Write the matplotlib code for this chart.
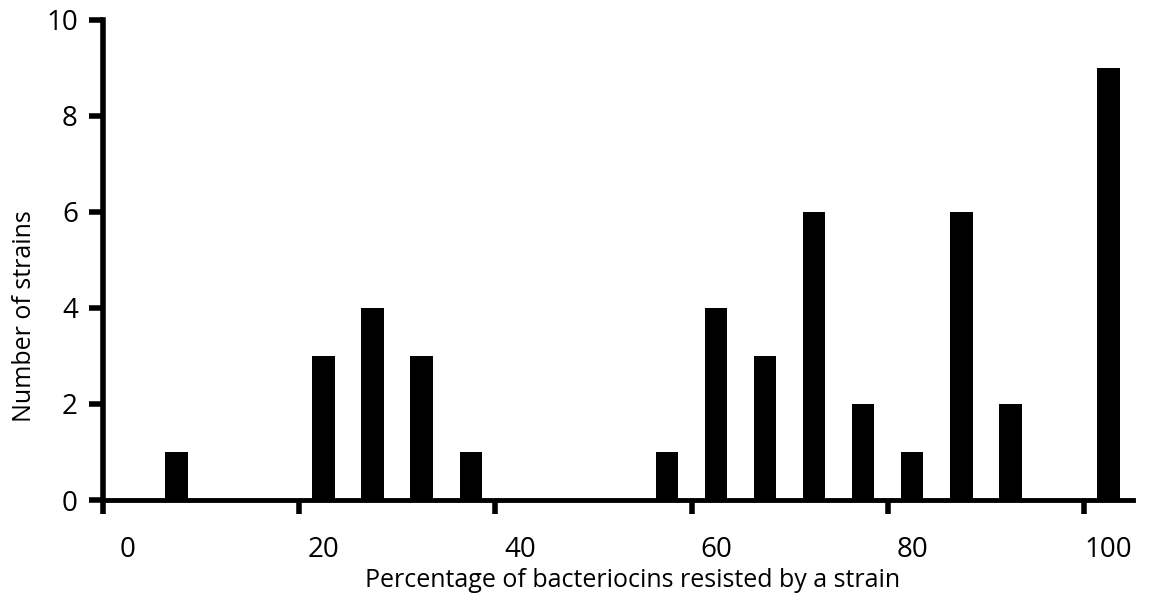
import numpy as np
import matplotlib
matplotlib.use('Agg')
from matplotlib import pyplot as plt

# percentage of bacteriocins resisted -> number of strains
pct = [5, 20, 25, 30, 35, 55, 60, 65, 70, 75, 80, 85, 90, 100]
strains = [1, 3, 4, 3, 1, 1, 4, 3, 6, 2, 1, 6, 2, 9]
xticks = [0, 20, 40, 60, 80, 100]
yticks = [0, 2, 4, 6, 8, 10]

plt.rcParams['font.family'] = ['Open Sans', 'DejaVu Sans']

fig = plt.figure(figsize=(11.49, 6.01), dpi=100)
ax = fig.add_axes([0.0896, 0.168, 0.8964, 0.799])

ax.bar(pct, strains, width=2.3, color='black', align='center')

ax.set_xlim(-2.5, 102.5)
ax.set_ylim(0, 10)

# labels sit on bin centres, tick marks on bin edges
ax.set_xticks(xticks)
ax.set_xticklabels([str(t) for t in xticks])
ax.set_xticks([t - 2.5 for t in xticks], minor=True)
ax.tick_params(axis='x', which='major', length=0, pad=26, labelsize=20)
ax.tick_params(axis='x', which='minor', length=10, width=4, direction='out')
ax.set_yticks(yticks)
ax.tick_params(axis='y', length=10, width=4, direction='out', pad=8, labelsize=20)

for s in ['top', 'right']:
    ax.spines[s].set_visible(False)
ax.spines['left'].set_linewidth(4)
ax.spines['bottom'].set_linewidth(3.5)

ax.set_xlabel('Percentage of bacteriocins resisted by a strain', fontsize=18)
ax.set_ylabel('Number of strains', fontsize=18)
ax.xaxis.set_label_coords(0.514, -0.167)
ax.yaxis.set_label_coords(-0.076, 0.383)
ax.xaxis.label.set_va('center')
ax.yaxis.label.set_va('center')

fig.savefig('out.png', dpi=100)
